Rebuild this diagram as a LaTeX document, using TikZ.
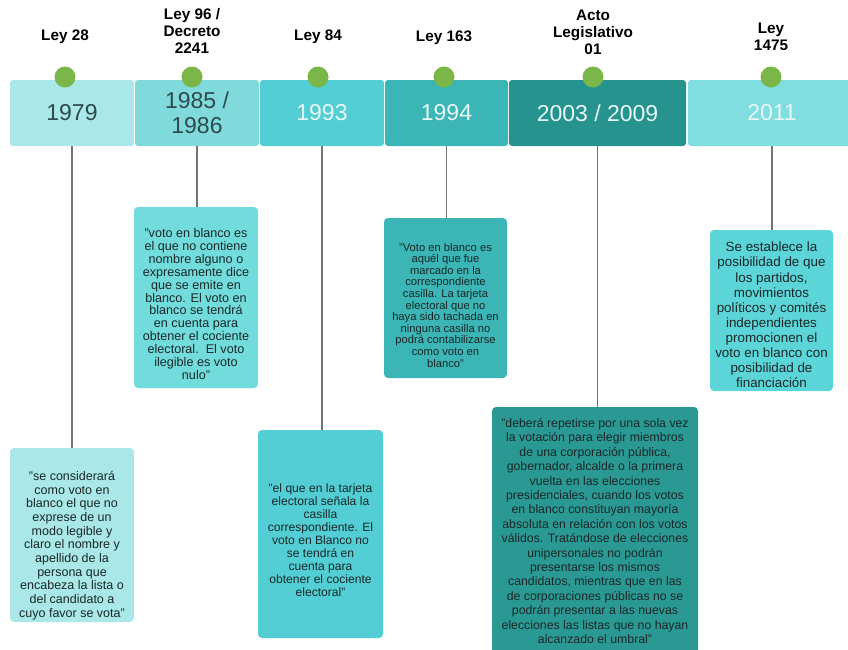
\documentclass[tikz,border=0pt]{standalone}
\usepackage{fontspec}
\setmainfont{Liberation Sans}
\usetikzlibrary{positioning}

\definecolor{dotgreen}{HTML}{7AB648}
\definecolor{bandA}{HTML}{A9E7E8}
\definecolor{bandB}{HTML}{80DADB}
\definecolor{bandC}{HTML}{52CED4}
\definecolor{bandD}{HTML}{3BB5B5}
\definecolor{bandE}{HTML}{27938F}
\definecolor{bandF}{HTML}{80DDE0}
\definecolor{quoteB}{HTML}{72DCDD}
\definecolor{quoteE}{HTML}{2A9994}
\definecolor{quoteF}{HTML}{5CD5D8}
\definecolor{yeardark}{HTML}{2E4A4C}
\definecolor{yearlight}{HTML}{E8F8F8}
\definecolor{ink}{HTML}{1A2828}
\definecolor{linkgray}{HTML}{737373}

\begin{document}
\begin{tikzpicture} [x=1pt, y=-1pt,
      year/.style={rectangle, rounded corners=3pt, minimum height=66pt, inner sep=0pt,
          align=center, font=\fontsize{23}{25}\selectfont},
      dot/.style={circle, fill=dotgreen, minimum size=21pt, inner sep=0pt},
      law/.style={align=center, inner sep=0pt, font=\fontsize{15.3}{17}\selectfont\bfseries},
      quote/.style={rectangle, rounded corners=4pt, inner sep=0pt},
      words/.style={inner sep=0pt, align=center, text=ink},
      link/.style={draw=linkgray, line width=1.3pt}]
      \useasboundingbox (0,0) rectangle (848,649);

      % franja de años
      \node[year, fill=bandA, minimum width=124pt, text=yeardark] (y1979) at (72,113) {1979};
      \node[year, fill=bandB, minimum width=124pt, text=yeardark] (y1985) at (197,113) {1985 /\\1986};
      \node[year, fill=bandC, minimum width=124pt, text=yearlight] (y1993) at (322,113) {1993};
      \node[year, fill=bandD, minimum width=123pt, text=yearlight] (y1994) at (446.5,113) {1994};
      \node[year, fill=bandE, minimum width=177pt, text=yearlight] (y2003) at (597.5,113) {2003 / 2009};
      \node[year, fill=bandF, minimum width=168pt, text=yearlight] (y2011) at (772,113) {2011};

      \node[dot] (d1979) at (65,77) {};
      \node[dot] (d1985) at (192,77) {};
      \node[dot] (d1993) at (318,77) {};
      \node[dot] (d1994) at (444,77) {};
      \node[dot] (d2003) at (593,77) {};
      \node[dot] (d2011) at (771,77) {};

      \node[law] (l1979) at (65,37) {Ley 28};
      \node[law] (l1985) at (192,31) {Ley 96 /\\Decreto\\2241};
      \node[law] (l1993) at (318,37) {Ley 84};
      \node[law] (l1994) at (444,38) {Ley 163};
      \node[law] (l2003) at (593,32) {Acto\\Legislativo\\01};
      \node[law] (l2011) at (771,37) {Ley\\1475};

      % recuadros de texto
      \node[quote, fill=bandA, minimum width=124pt, minimum height=174pt] (q1979) at (72,535) {};
      \node[words, font=\fontsize{12.5}{13.7}\selectfont] (t1979) at ([yshift=-10.5pt]q1979.center)
          {"se considerará\\como voto en\\blanco el que no\\exprese de un\\modo legible y\\claro el nombre y\\apellido de la\\persona que\\encabeza la lista o\\del candidato a\\cuyo favor se vota"};
      \node[quote, fill=quoteB, minimum width=124pt, minimum height=181pt] (q1985) at (196,297.5) {};
      \node[words, font=\fontsize{12.6}{12.9}\selectfont] (t1985) at ([yshift=-6.5pt]q1985.center)
          {"voto en blanco es\\el que no contiene\\nombre alguno o\\expresamente dice\\que se emite en\\blanco. El voto en\\blanco se tendrá\\en cuenta para\\obtener el cociente\\electoral.\ \ El voto\\ilegible es voto\\nulo"};
      \node[quote, fill=bandC, minimum width=125pt, minimum height=208pt] (q1993) at (320.5,534) {};
      \node[words, font=\fontsize{12.1}{13}\selectfont] (t1993) at ([yshift=-6pt]q1993.center)
          {"el que en la tarjeta\\electoral señala la\\casilla\\correspondiente. El\\voto en Blanco no\\se tendrá en\\cuenta para\\obtener el cociente\\electoral"};
      \node[quote, fill=bandD, minimum width=123pt, minimum height=160pt] (q1994) at (445.5,298) {};
      \node[words, font=\fontsize{11.2}{11.6}\selectfont] (t1994) at ([yshift=-7pt]q1994.center)
          {"Voto en blanco es\\aquél que fue\\marcado en la\\correspondiente\\casilla. La tarjeta\\electoral que no\\haya sido tachada en\\ninguna casilla no\\podrá contabilizarse\\como voto en\\blanco"};
      \node[quote, fill=quoteE, minimum width=206pt, minimum height=248pt] (q2003) at (595,531) {};
      \node[words, font=\fontsize{12.3}{14.4}\selectfont] (t2003) at (q2003.center)
          {"deberá repetirse por una sola vez\\la votación para elegir miembros\\de una corporación pública,\\gobernador, alcalde o la primera\\vuelta en las elecciones\\presidenciales, cuando los votos\\en blanco constituyan mayoría\\absoluta en relación con los votos\\válidos. Tratándose de elecciones\\unipersonales no podrán\\presentarse los mismos\\candidatos, mientras que en las\\de corporaciones públicas no se\\podrán presentar a las nuevas\\elecciones las listas que no hayan\\alcanzado el umbral"};
      \node[quote, fill=quoteF, minimum width=123pt, minimum height=161pt] (q2011) at (771.5,310.5) {};
      \node[words, font=\fontsize{13.4}{15.1}\selectfont] (t2011) at ([yshift=-4.5pt]q2011.center)
          {Se establece la\\posibilidad de que\\los partidos,\\movimientos\\políticos y comités\\independientes\\promocionen el\\voto en blanco con\\posibilidad de\\financiación};

      % conectores
      \draw[link] (y1979.south) -- (y1979.south |- q1979.north);
      \draw[link] (y1985.south) -- (y1985.south |- q1985.north);
      \draw[link] (y1993.south) -- (y1993.south |- q1993.north);
      \draw[link] (y1994.south) -- (y1994.south |- q1994.north);
      \draw[link] (y2003.south) -- (y2003.south |- q2003.north);
      \draw[link] (y2011.south) -- (y2011.south |- q2011.north);
\end{tikzpicture}
\end{document}
